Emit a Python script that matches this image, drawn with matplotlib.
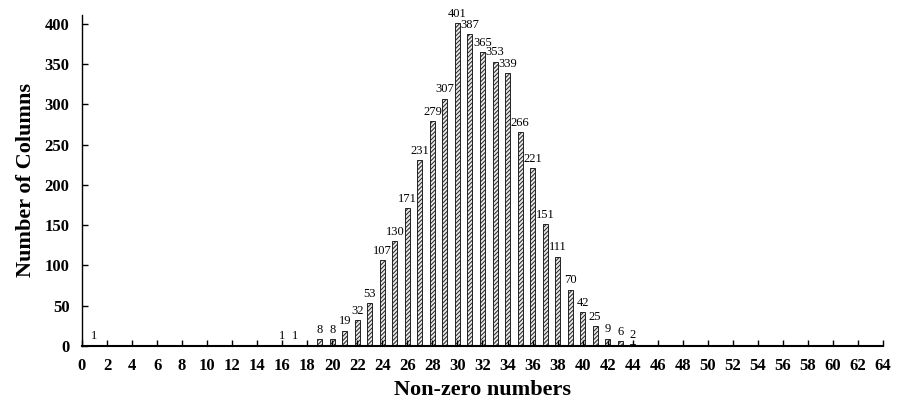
import matplotlib
matplotlib.use("Agg")
import matplotlib.pyplot as plt

plt.rcParams['font.family'] = ['Liberation Serif', 'DejaVu Serif']
plt.rcParams['hatch.linewidth'] = 0.7
plt.rcParams['hatch.color'] = '#666666'

# non-zero count -> number of columns (zeros left out)
nonzero = [1, 16, 17, 19, 20, 21, 22, 23, 24, 25, 26, 27, 28, 29, 30,
           31, 32, 33, 34, 35, 36, 37, 38, 39, 40, 41, 42, 43, 44]
columns = [1, 1, 1, 8, 8, 19, 32, 53, 107, 130, 171, 231, 279, 307, 401,
           387, 365, 353, 339, 266, 221, 151, 111, 70, 42, 25, 9, 6, 2]
xticks = list(range(0, 65, 2))
yticks = list(range(0, 401, 50))

fig = plt.figure(figsize=(8.99, 4.05), dpi=100)
ax = fig.add_axes([0.0912, 0.146, 0.891, 0.817])

bars = ax.bar(nonzero, columns, width=0.4, color='#e8e8e8', edgecolor='#222222',
              linewidth=0.7, hatch='////////')
for x, y in zip(nonzero, columns):
    ax.text(x, y + 4, str(y), ha='center', va='bottom', fontsize=9)

ax.set_xlim(0, 64)
ax.set_ylim(0, 411)
ax.set_xticks(xticks)
ax.set_yticks(yticks)
ax.tick_params(direction='in', length=4, width=1, labelsize=12, pad=9)
for lab in ax.get_xticklabels() + ax.get_yticklabels():
    lab.set_fontweight('bold')

ax.spines['top'].set_visible(False)
ax.spines['right'].set_visible(False)
ax.spines['left'].set_linewidth(1)
ax.spines['bottom'].set_linewidth(1.5)

ax.set_xlabel('Non-zero numbers', fontsize=16, fontweight='bold', labelpad=4)
ax.set_ylabel('Number of Columns', fontsize=16, fontweight='bold', labelpad=6)

fig.savefig('out.png', dpi=100)
